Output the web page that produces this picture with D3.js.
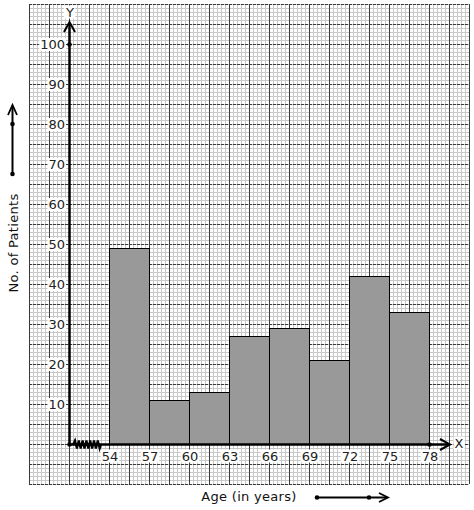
<!DOCTYPE html>
<html><head><meta charset="utf-8">
<script src="https://cdn.jsdelivr.net/npm/d3@7"></script>
<style>body{margin:0;background:#fff}svg{display:block}text{font-family:"DejaVu Sans",sans-serif}</style>
</head><body><svg id="c" width="474" height="510"></svg>
<script>
const classStarts = [54, 57, 60, 63, 66, 69, 72, 75];
const classWidth = 3;
const patients = [49, 11, 13, 27, 29, 21, 42, 33];
const xTicks = [54, 57, 60, 63, 66, 69, 72, 75, 78];
const yTicks = [10, 20, 30, 40, 50, 60, 70, 80, 90, 100];
const xTitle = "Age (in years)";
const yTitle = "No. of Patients";

const svg = d3.select("#c");
const x = d3.scaleLinear().domain([48, 81]).range([29, 469]);
const y = d3.scaleLinear().domain([-10, 110]).range([484, 4]);
const x0 = x(51), y0 = y(0);

// graph paper
const g = svg.append("g");
const minorX = d3.range(29, 469.1, 4), minorY = d3.range(4, 484.1, 4);
g.selectAll(".mx").data(minorX).join("line").attr("x1", d => d + .5).attr("x2", d => d + .5)
  .attr("y1", 4).attr("y2", 484).attr("stroke", "#c8c8c8").attr("stroke-width", 1);
g.selectAll(".my").data(minorY).join("line").attr("y1", d => d + .5).attr("y2", d => d + .5)
  .attr("x1", 29).attr("x2", 469).attr("stroke", "#c8c8c8").attr("stroke-width", 1);
const majorX = d3.range(29, 469.1, 20), majorY = d3.range(4, 484.1, 20);
g.selectAll(".Mx").data(majorX).join("line").attr("x1", d => d + .5).attr("x2", d => d + .5)
  .attr("y1", 4).attr("y2", 484).attr("stroke", "#3a3a3a").attr("stroke-width", 1);
g.selectAll(".My").data(majorY).join("line").attr("y1", d => d + .5).attr("y2", d => d + .5)
  .attr("x1", 29).attr("x2", 469).attr("stroke", "#3a3a3a").attr("stroke-width", 1)
  .attr("stroke-dasharray", "3,1");

// bars
svg.selectAll(".bar").data(patients).join("rect")
  .attr("x", (d, i) => x(classStarts[i]) + .5)
  .attr("width", (d, i) => x(classStarts[i] + classWidth) - x(classStarts[i]))
  .attr("y", d => y(d) + .5).attr("height", d => y0 - y(d))
  .attr("fill", "#999999").attr("stroke", "#000").attr("stroke-width", 1);

// axes lines
svg.append("line").attr("x1", x0 + .5).attr("x2", x0 + .5).attr("y1", y0).attr("y2", 24)
  .attr("stroke", "#000").attr("stroke-width", 2.5);
svg.append("path").attr("d", `M${x0 - 5},${32} L${x0 + .5},${22} L${x0 + 6},${32}`)
  .attr("fill", "none").attr("stroke", "#000").attr("stroke-width", 2);
svg.append("line").attr("x1", x0).attr("x2", 449).attr("y1", y0 + .5).attr("y2", y0 + .5)
  .attr("stroke", "#000").attr("stroke-width", 2.5);
svg.append("path").attr("d", `M${440},${y0 - 5} L${450},${y0 + .5} L${440},${y0 + 6}`)
  .attr("fill", "none").attr("stroke", "#000").attr("stroke-width", 2);

// zigzag
let zz = `M${x0 + 4},${y0 + .5}`;
for (let i = 0; i < 7; i++) {
  const bx = x0 + 5 + i * 3.8;
  zz += ` L${bx + 1},${y0 - 3.5} L${bx + 2.9},${y0 + 4.5}`;
}
zz += ` L${x0 + 32},${y0 + .5}`;
svg.append("path").attr("d", zz).attr("fill", "none").attr("stroke", "#000").attr("stroke-width", 2.2);

// dots
[[x0, y0], [x0, y(100)], [x(78), y0]].forEach(p =>
  svg.append("circle").attr("cx", p[0] + .5).attr("cy", p[1] + .5).attr("r", 2.3).attr("fill", "#000"));

function label(txt, cx, cy, anchor) {
  const t = svg.append("text").text(txt).attr("x", cx).attr("y", cy)
    .attr("font-size", 13).attr("fill", "#222").attr("text-anchor", anchor).attr("dominant-baseline", "central");
  const b = t.node().getBBox();
  svg.insert("rect", () => t.node()).attr("x", b.x - 1).attr("y", b.y + 1).attr("width", b.width + 2)
    .attr("height", b.height - 2).attr("fill", "#fff");
  return t;
}
yTicks.forEach(v => label(String(v), x0 - 4, y(v) + .5, "end"));
xTicks.forEach(v => label(String(v), x(v) + 1, y0 + 12, "middle"));
label("Y", x0 + 1, 12, "middle");
label("X", 459, y0 - 1, "middle");

// titles
svg.append("text").text(xTitle).attr("x", 249).attr("y", 501).attr("text-anchor", "middle")
  .attr("font-size", 13).attr("fill", "#111").attr("letter-spacing", "0.3");
svg.append("text").text(yTitle).attr("transform", "translate(18,243) rotate(-90)")
  .attr("text-anchor", "middle").attr("font-size", 13).attr("fill", "#111").attr("letter-spacing", "0.3");

// direction arrows
svg.append("line").attr("x1", 317).attr("x2", 387).attr("y1", 497.5).attr("y2", 497.5).attr("stroke", "#000").attr("stroke-width", 2);
svg.append("path").attr("d", "M379,493 L388,497.5 L379,502").attr("fill", "none").attr("stroke", "#000").attr("stroke-width", 1.8);
[317, 369].forEach(cx => svg.append("circle").attr("cx", cx).attr("cy", 497.5).attr("r", 2.3).attr("fill", "#000"));
svg.append("line").attr("x1", 12.5).attr("x2", 12.5).attr("y1", 174).attr("y2", 106).attr("stroke", "#000").attr("stroke-width", 2);
svg.append("path").attr("d", "M8,115 L12.5,105 L17,115").attr("fill", "none").attr("stroke", "#000").attr("stroke-width", 1.8);
[124, 174].forEach(cy => svg.append("circle").attr("cx", 12.5).attr("cy", cy).attr("r", 2.3).attr("fill", "#000"));
</script></body></html>
